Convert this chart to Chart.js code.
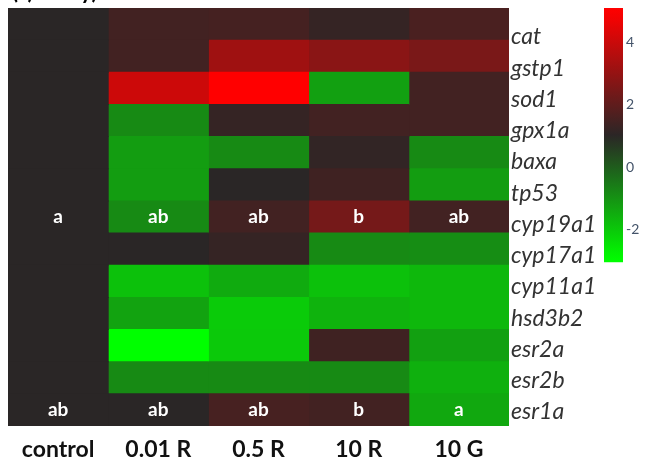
<!DOCTYPE html>
<html>
<head>
<meta charset="utf-8">
<script src="https://cdn.jsdelivr.net/npm/chart.js@4.4.1/dist/chart.umd.min.js"></script>
<style>
    body { margin: 0; background: #fff; }
    #wrap { position: relative; width: 645px; height: 470px; overflow: hidden; }
    #ttl { position: absolute; top: -23px; left: 12px; font: bold 22px Lato, sans-serif; color: #000; }
</style>
</head>
<body>
<div id="wrap">
    <canvas id="heatChart" width="645" height="470"></canvas>
    <div id="ttl">(c) 1 day)</div>
</div>
<script>
// genes (rows) and treatments (columns)
var genes = ["cat", "gstp1", "sod1", "gpx1a", "baxa", "tp53", "cyp19a1", "cyp17a1", "cyp11a1", "hsd3b2", "esr2a", "esr2b", "esr1a"];
var columns = ["control", "0.01 R", "0.5 R", "10 R", "10 G"];

var control = [1, 1, 1, 1, 1, 1, 1, 1, 1, 1, 1, 1, 1];
var r001 = [1.45, 1.45, 4.05, -0.85, -1.2, -1.2, -0.85, 1.0, -1.85, -1.3, -3.0, -0.85, 1.0];
var r05 = [1.5, 3.2, 5.0, 1.2, -0.85, 1.0, 1.45, 1.2, -1.45, -2.05, -2.0, -0.85, 1.55];
var r10 = [1.2, 2.8, -1.25, 1.45, 1.15, 1.4, 2.4, -0.85, -1.85, -1.6, 1.4, -0.85, 1.45];
var g10 = [1.6, 2.5, 1.45, 1.45, -0.85, -1.2, 1.45, -0.9, -1.7, -1.7, -1.25, -1.55, -1.4];

// significance letters
var sigCyp19a1 = ["a", "ab", "ab", "b", "ab"];
var sigEsr1a = ["ab", "ab", "ab", "b", "a"];

// colour bar ticks
var cbTicks = [-2, 0, 2, 4];

function heat(v) {
    var t;
    if (v >= 1) {
        t = Math.min((v - 1) / 4, 1);
        return "rgb(" + Math.round(42 + 213 * t) + "," + Math.round(38 - 38 * t) + "," + Math.round(38 - 38 * t) + ")";
    }
    t = Math.min((1 - v) / 4, 1);
    return "rgb(" + Math.round(42 - 42 * t) + "," + Math.round(38 + 217 * t) + "," + Math.round(38 - 38 * t) + ")";
}

var series = [control, r001, r05, r10, g10];

var datasets = series.map(function (vals, i) {
    return {
        label: columns[i],
        data: vals.map(function () { return [i, i + 1]; }),
        backgroundColor: vals.map(heat),
        borderWidth: 0,
        inflateAmount: 0.5,
        grouped: false,
        categoryPercentage: 1,
        barPercentage: 1
    };
});

var overlay = {
    id: "overlay",
    afterDatasetsDraw: function (chart) {
        var ctx = chart.ctx;
        var x = chart.scales.x, y = chart.scales.y, cb = chart.scales.cb;
        ctx.save();
        ctx.fillStyle = "#fff";
        ctx.font = "bold 19px Lato";
        ctx.textAlign = "center";
        ctx.textBaseline = "middle";
        [[sigCyp19a1, "cyp19a1"], [sigEsr1a, "esr1a"]].forEach(function (r) {
            var yy = y.getPixelForValue(genes.indexOf(r[1]));
            r[0].forEach(function (m, i) {
                ctx.fillText(m, x.getPixelForValue(i + 0.5), yy);
            });
        });
        // colour bar
        var top = cb.getPixelForValue(5.1), bot = cb.getPixelForValue(-3.05);
        var g = ctx.createLinearGradient(0, top, 0, bot);
        for (var k = 0; k <= 20; k++) {
            var v = 5.1 - k * (8.15 / 20);
            g.addColorStop(k / 20, heat(v));
        }
        ctx.fillStyle = g;
        ctx.fillRect(cb.left, top, 19, bot - top);
        ctx.restore();
    }
};

function noPad(a) {
    a.paddingTop = 0;
    a.paddingBottom = 0;
}

var heatChart = new Chart("heatChart", {
    type: "bar",
    data: { labels: genes, datasets: datasets },
    plugins: [overlay],
    options: {
        indexAxis: "y",
        responsive: false,
        animation: false,
        layout: { padding: { left: 8, top: 8, right: 0, bottom: 0 } },
        plugins: { legend: { display: false }, tooltip: { enabled: false } },
        scales: {
            x: {
                type: "linear", min: 0, max: 5,
                grid: { display: false, drawTicks: false },
                border: { display: false },
                afterBuildTicks: function (a) { a.ticks = columns.map(function (c, i) { return { value: i + 0.5 }; }); },
                afterFit: function (a) { a.height = 44; a.paddingLeft = 0; a.paddingRight = 0; },
                ticks: {
                    autoSkip: false, maxRotation: 0, padding: 10, color: "#111",
                    font: { family: "Lato", weight: "bold", size: 23 },
                    callback: function (v) { return columns[Math.floor(v)]; }
                }
            },
            y: { type: "category", display: false, offset: true },
            names: {
                type: "linear", position: "right", weight: 1, reverse: true, offset: false,
                min: -0.928, max: 12.448,
                grid: { display: false, drawTicks: false, offset: false },
                border: { display: false },
                afterBuildTicks: function (a) { a.ticks = genes.map(function (g, i) { return { value: i }; }); },
                afterFit: function (a) { a.width = 95; noPad(a); },
                ticks: {
                    autoSkip: false, padding: 2, color: "#333",
                    font: { family: "Lato", style: "italic", size: 23 },
                    callback: function (v) { return genes[v]; }
                }
            },
            cb: {
                type: "linear", position: "right", weight: 2, offset: false,
                min: -8.3, max: 5.1,
                grid: { display: false, drawTicks: false, offset: false },
                border: { display: false },
                afterBuildTicks: function (a) { a.ticks = cbTicks.map(function (t) { return { value: t }; }); },
                afterFit: function (a) { a.width = 41; noPad(a); },
                ticks: {
                    autoSkip: false, padding: 22, color: "#44546a",
                    font: { family: "Lato", size: 14 }
                }
            }
        }
    }
});
</script>
</body>
</html>
